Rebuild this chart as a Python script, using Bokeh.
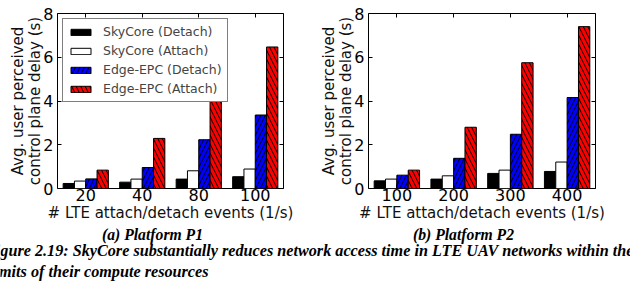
from bokeh.plotting import figure
from bokeh.models import (Range1d, FixedTicker, LinearAxis, Legend, LegendItem,
                          ColumnDataSource)
from bokeh.transform import dodge
from bokeh.layouts import column, row
from bokeh.embed import file_html
from bokeh.resources import INLINE
from bokeh.core.properties import value

# Platform P1: attach/detach event rates and delays (s)
p1_rates = ["20", "40", "80", "100"]
p1_sky_detach = [0.23, 0.29, 0.43, 0.54]
p1_sky_attach = [0.34, 0.43, 0.81, 0.89]
p1_edge_detach = [0.44, 0.96, 2.23, 3.36]
p1_edge_attach = [0.84, 2.29, 4.50, 6.47]

# Platform P2
p2_rates = ["100", "200", "300", "400"]
p2_sky_detach = [0.35, 0.43, 0.69, 0.78]
p2_sky_attach = [0.43, 0.58, 0.84, 1.21]
p2_edge_detach = [0.61, 1.38, 2.48, 4.16]
p2_edge_attach = [0.84, 2.80, 5.75, 7.40]

series_names = ["SkyCore (Detach)", "SkyCore (Attach)",
                "Edge-EPC (Detach)", "Edge-EPC (Attach)"]
y_ticks = [0, 2, 4, 6, 8]

sub_captions = ["(a) Platform P1", "(b) Platform P2"]
fig_caption = ["Figure 2.19: SkyCore substantially reduces network access time in LTE UAV networks within the",
               "limits of their compute resources"]

FONT = "DejaVu Sans"
fills = ["#000000", "#ffffff", "#0000ff", "#ff0000"]
hatches = [None, None, "/", "\\"]
offsets = [-0.3, -0.1, 0.1, 0.3]


def tick_only_axis(ticks):
    # frame-edge tick marks without labels
    return LinearAxis(ticker=FixedTicker(ticks=ticks),
                      major_label_text_font_size="1px",
                      major_label_text_color=None,
                      axis_line_color=None, major_tick_in=4, major_tick_out=0,
                      minor_tick_line_color=None, major_label_standoff=0)


def panel(rates, series, border_left, border_right, legend):
    idx = list(range(len(rates)))
    data = {"idx": idx}
    for k, s in enumerate(series):
        data["s%d" % k] = s
    src = ColumnDataSource(data)

    p = figure(width=315, height=224, output_backend="svg", toolbar_location=None,
               x_range=Range1d(-0.5, len(rates) - 0.5), y_range=Range1d(0, 8),
               min_border_left=border_left, min_border_right=border_right,
               min_border_top=13, min_border_bottom=36)
    p.outline_line_color = "black"
    p.outline_line_width = 1
    p.xgrid.visible = False
    p.ygrid.visible = False

    renderers = []
    for k in range(4):
        kw = {}
        if hatches[k]:
            kw = dict(hatch_pattern=hatches[k], hatch_color="black",
                      hatch_scale=9, hatch_weight=1)
        r = p.vbar(x=dodge("idx", offsets[k], range=p.x_range), top="s%d" % k,
                   width=0.2, source=src, fill_color=fills[k],
                   line_color="black", line_width=1, **kw)
        renderers.append(r)

    xa = p.xaxis[0]
    xa.ticker = FixedTicker(ticks=idx)
    xa.major_label_overrides = {i: r for i, r in zip(idx, rates)}
    xa.axis_label = "# LTE attach/detach events (1/s)"
    ya = p.yaxis[0]
    ya.ticker = FixedTicker(ticks=y_ticks)
    ya.axis_label = "Avg. user perceived\ncontrol plane delay (s)"

    for ax in (xa, ya):
        ax.axis_line_color = None
        ax.major_tick_in = 4
        ax.major_tick_out = 0
        ax.minor_tick_line_color = None
        ax.major_label_text_font = FONT
        ax.major_label_text_font_size = "16px"
        ax.major_label_text_color = "black"
        ax.major_label_text_line_height = 0.9
        ax.axis_label_text_font = FONT
        ax.axis_label_text_font_size = "15px"
        ax.axis_label_text_font_style = "normal"
        ax.axis_label_text_color = "#111111"
        ax.axis_label_text_line_height = 0.95
        ax.axis_label_standoff = 0
    xa.major_label_standoff = 0
    ya.major_label_standoff = 4
    ya.axis_label_standoff = -4

    p.add_layout(tick_only_axis(idx), "above")
    p.add_layout(tick_only_axis(y_ticks), "right")

    if legend:
        lg = Legend(items=[LegendItem(label=n, renderers=[r])
                           for n, r in zip(series_names, renderers)],
                    location="top_left", margin=5, padding=5,
                    label_text_font=FONT, label_text_font_size="12.5px",
                    glyph_width=25, glyph_height=8, label_standoff=10,
                    spacing=4, border_line_color="black", border_line_width=1,
                    background_fill_alpha=1)
        p.add_layout(lg)
    return p


p1 = panel(p1_rates, [p1_sky_detach, p1_sky_attach, p1_edge_detach, p1_edge_attach],
           57, 32, True)
p2 = panel(p2_rates, [p2_sky_detach, p2_sky_attach, p2_edge_detach, p2_edge_attach],
           53, 35, False)

# caption strip below the two panels
cap = figure(width=630, height=58, output_backend="svg", toolbar_location=None,
             x_range=Range1d(0, 630), y_range=Range1d(58, 0),
             min_border=0, min_border_left=0, min_border_right=0,
             min_border_top=0, min_border_bottom=0)
cap.axis.visible = False
cap.xgrid.visible = False
cap.ygrid.visible = False
cap.outline_line_color = None

sub_src = ColumnDataSource(dict(x=[152, 463], y=[10, 10], t=sub_captions))
cap.text(x="x", y="y", text="t", source=sub_src, text_align="center",
         text_baseline="middle", text_font=value("Liberation Serif"),
         text_font_style="bold italic", text_font_size="15.7px", text_color="black")
cap_src = ColumnDataSource(dict(x=[-15.5, -10.5], y=[26, 47], t=fig_caption))
cap.text(x="x", y="y", text="t", source=cap_src, text_align="left",
         text_baseline="middle", text_font=value("Liberation Serif"),
         text_font_style="bold italic", text_font_size="16.2px", text_color="black")

layout = column(row(p1, p2), cap)
open("out.html", "w").write(file_html(layout, INLINE))
